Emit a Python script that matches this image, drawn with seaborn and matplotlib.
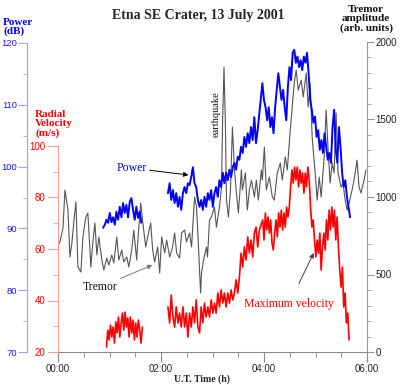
import numpy as np
import pandas as pd
import matplotlib
matplotlib.use("Agg")
import matplotlib.pyplot as plt
from matplotlib.ticker import MultipleLocator, FixedLocator, FixedFormatter
import seaborn as sns

sns.set_style("white")
plt.rcParams['font.family'] = ['Liberation Sans', 'DejaVu Sans']
SERIF = ['Liberation Serif', 'DejaVu Serif']

# ---- data, time in minutes after 00:00 UT ----
tremor_min = [0, 2.3, 5.8, 8.1, 11.6, 13.9, 16.3, 18.6, 20.9, 23.2,
              26.7, 29.0, 32.5, 34.8, 38.3, 40.6, 43.0, 45.3, 47.6, 51.1,
              53.4, 56.9, 59.2, 62.7, 65.0, 68.5, 70.8, 74.3, 76.6, 80.1,
              82.5, 85.9, 88.3, 91.7, 92.9, 96.4, 98.7, 102.2, 104.5, 108.0,
              110.3, 112.6, 116.1, 118.5, 120.8, 124.3, 126.6, 130.1, 133.5, 135.9,
              138.2, 141.7, 144.0, 147.5, 149.8, 153.3, 155.6, 159.1, 161.4, 163.7,
              166.1, 167.2, 169.5, 173.0, 174.2, 176.5, 178.8, 182.3, 184.6, 188.1,
              190.5, 191.6, 193.4, 195.1, 196.3, 198.6, 200.9, 203.2, 205.6, 207.9,
              210.2, 213.7, 214.8, 218.3, 220.6, 223.0, 225.3, 228.8, 231.1, 233.4,
              236.9, 238.1, 240.4, 242.7, 246.2, 249.7, 252.0, 255.5, 259.0, 261.3,
              264.8, 267.1, 270.6, 272.9, 275.2, 277.5, 279.9, 283.4, 285.7, 289.2,
              291.5, 293.8, 296.1, 299.6, 301.9, 304.3, 306.6, 310.1, 312.4, 314.7,
              317.0, 319.4, 321.7, 324.0, 326.3, 329.8, 332.1, 334.5, 336.8, 339.1,
              342.6, 344.9, 348.4, 350.7, 353.0, 356.5, 358.8]
tremor = [690, 710, 800, 1045, 916, 613, 710, 851, 968, 548,
          516, 742, 871, 897, 548, 710, 832, 626, 742, 593,
          529, 606, 561, 626, 574, 742, 593, 658, 581, 613,
          548, 658, 787, 593, 710, 961, 839, 677, 742, 832,
          658, 581, 677, 510, 742, 639, 722, 613, 677, 768,
          639, 606, 768, 787, 710, 768, 677, 1000, 935, 677,
          381, 510, 593, 677, 613, 851, 871, 935, 806, 935,
          1064, 1451, 1838, 1451, 980, 871, 1045, 1451, 1174, 1026,
          897, 1174, 1045, 1155, 916, 1045, 1109, 1000, 1109, 980,
          1174, 1109, 1322, 1045, 1129, 1000, 980, 1155, 1219, 1109,
          1258, 1174, 1432, 1580, 1735, 1819, 1690, 1754, 1645, 1800,
          1580, 1735, 1387, 1155, 980, 1129, 1000, 1258, 1561, 1303,
          1090, 1219, 1155, 1542, 1155, 1064, 1090, 980, 916, 961,
          1045, 1109, 1238, 1064, 1026, 1109, 1174]

# power (dB): two recorded stretches, regular sampling
power1_span = (52.6, 97.1)
power1 = [90.1, 90.6, 91.4, 90.9, 92.5, 91.0, 91.8, 90.6, 92.7, 91.4,
          93.5, 91.8, 94.1, 92.5, 93.8, 91.8, 94.3, 94.9, 93.0, 91.4,
          93.5, 91.7, 92.7, 90.9]
power2a_span = (128.1, 232.6)
power2a = [95.7, 97.3, 94.6, 96.2, 94.1, 95.7, 93.5, 95.1, 93.0, 95.7,
           96.7, 95.7, 97.3, 97.0, 98.3, 99.9, 97.3, 96.7, 94.6, 93.5,
           94.6, 93.0, 95.1, 93.5, 95.7, 94.6, 96.2, 93.5, 95.7, 96.7,
           95.1, 97.8, 96.7, 99.0, 97.3, 99.0, 97.8, 99.5, 98.3, 99.9,
           100.6, 99.5, 101.6, 101.1, 103.2, 102.2, 104.8, 103.2, 105.4, 103.8,
           106.4, 104.3, 108.0, 103.8, 105.9]
power2b_span = (238.1, 340.3)
power2b = [113.5, 110.8, 109.6, 107.5, 109.6, 106.4, 108.0, 105.4, 109.6, 112.4,
           115.1, 112.9, 110.8, 112.4, 109.6, 107.5, 112.9, 116.1, 114.0, 118.4,
           118.9, 116.8, 117.8, 116.1, 117.2, 115.6, 117.8, 116.8, 118.4, 115.1,
           110.8, 109.2, 107.1, 108.1, 104.8, 105.9, 102.7, 104.3, 102.2, 105.4,
           103.2, 101.1, 102.2, 100.6, 106.4, 109.2, 102.7, 100.6, 106.4, 103.2,
           99.0, 96.7, 97.8, 95.1, 93.5, 91.8]

# maximum radial velocity (m/s)
vel1_span = (56.5, 98.3)
vel1 = [21.9, 28.5, 24.7, 30.5, 25.8, 29.7, 23.5, 31.7, 27.4, 33.6,
        25.8, 31.3, 35.1, 28.5, 35.5, 29.7, 33.2, 25.8, 33.6, 27.4,
        32.4, 24.7, 31.3, 25.8, 32.4, 28.5, 23.5, 29.7]
vel2a_span = (128.1, 234.6)
vel2a = [37.5, 31.3, 42.1, 33.6, 29.7, 37.5, 31.3, 35.1, 29.7, 37.5,
         29.7, 35.1, 25.8, 35.1, 29.7, 37.5, 31.3, 40.2, 29.7, 27.4,
         37.5, 31.3, 39.0, 33.6, 37.5, 33.6, 40.2, 35.1, 39.0, 35.1,
         42.9, 37.5, 44.1, 39.0, 42.9, 37.5, 42.9, 39.0, 44.1, 40.2,
         42.9, 48.0, 42.9, 49.1, 58.4, 53.0, 60.8, 55.7, 64.7, 58.4,
         63.5, 56.9, 66.2, 68.5, 60.8, 67.4]
vel2b_span = (238.5, 339.1)
vel2b = [71.3, 63.5, 74.0, 67.4, 72.4, 66.2, 71.3, 62.3, 59.6, 66.2,
         71.3, 64.7, 74.0, 68.5, 75.1, 67.4, 74.0, 68.5, 76.3, 72.4,
         76.3, 84.1, 90.7, 85.6, 91.8, 86.8, 91.8, 84.1, 90.7, 85.6,
         89.5, 81.7, 89.5, 84.1, 91.8, 86.8, 76.3, 68.5, 71.3, 63.5,
         56.9, 63.5, 58.4, 66.2, 51.8, 60.8, 66.2, 59.6, 71.3, 63.5,
         75.1, 67.4, 76.3, 68.5, 75.1, 63.5, 72.4, 60.8, 51.8, 45.2,
         53.0, 37.5, 42.9, 31.3, 35.1, 24.7]

time_ticks = [0, 120, 240, 360]
time_labels = ["00:00", "02:00", "04:00", "06:00"]


def series(*parts):
    t, v = [], []
    for span, vals in parts:
        t += list(np.linspace(span[0], span[1], len(vals)))
        v += list(vals)
    return pd.DataFrame({"t": t, "v": v})


def px(x, y):
    return x / 400, 1 - y / 385


BLUE, RED = "#0000ff", "#ff0000"
TICK_FS = 7
fig = plt.figure(figsize=(4.0, 3.85), dpi=100)
ax = fig.add_axes([58 / 400, 1 - 352 / 385, 309 / 400, 310 / 385])
axv = ax.twinx()
axp = ax.twinx()

# tremor (right axis)
sns.lineplot(x=tremor_min, y=tremor, ax=ax, color="#555555", lw=0.8,
             estimator=None, sort=False)
ax.set_xlim(0, 360)
ax.set_ylim(0, 2000)
ax.yaxis.tick_right()
for s in ["top", "left"]:
    ax.spines[s].set_visible(False)
ax.spines["right"].set_color("#999999")
ax.spines["bottom"].set_color("#888888")
ax.xaxis.set_major_locator(FixedLocator(time_ticks))
ax.xaxis.set_major_formatter(FixedFormatter(time_labels))
ax.xaxis.set_minor_locator(MultipleLocator(30))
ax.yaxis.set_major_locator(MultipleLocator(500))
ax.yaxis.set_minor_locator(MultipleLocator(100))
ax.tick_params(axis="x", which="both", direction="out", bottom=True, color="#888888",
               labelsize=TICK_FS, pad=2)
ax.tick_params(axis="x", which="major", length=7)
ax.tick_params(axis="x", which="minor", length=3.5)
ax.tick_params(axis="y", which="both", direction="out", right=True, left=False,
               color="#999999", labelsize=TICK_FS, labelcolor="#222222", pad=1)
ax.tick_params(axis="y", which="major", length=5)
ax.tick_params(axis="y", which="minor", length=3)
ax.set_xlabel("")
ax.set_ylabel("")

# velocity (inner left axis)
for span_vals in [[(vel1_span, vel1)], [(vel2a_span, vel2a), (vel2b_span, vel2b)]]:
    d = series(*span_vals)
    sns.lineplot(data=d, x="t", y="v", ax=axv, color=RED, lw=1.2,
                 estimator=None, sort=False)
axv.set_ylim(20, 20 + 80 * 310 / 206)
axv.yaxis.tick_left()
for s in ["top", "right", "bottom"]:
    axv.spines[s].set_visible(False)
axv.spines["left"].set_visible(True)
axv.spines["left"].set_position(("axes", 0))
axv.spines["left"].set_bounds(20, 100)
axv.spines["left"].set_color("#ff9a9a")
axv.yaxis.set_major_locator(FixedLocator([20, 40, 60, 80, 100]))
axv.yaxis.set_minor_locator(FixedLocator([30, 50, 70, 90]))
axv.tick_params(axis="y", which="both", direction="out", left=True, right=False,
                color="#ff9a9a", labelsize=TICK_FS, labelcolor=RED, pad=2)
axv.tick_params(axis="y", which="major", length=7)
axv.tick_params(axis="y", which="minor", length=3.5)
axv.set_xlabel("")
axv.set_ylabel("")

# power (outer left axis)
for span_vals in [[(power1_span, power1)], [(power2a_span, power2a), (power2b_span, power2b)]]:
    d = series(*span_vals)
    sns.lineplot(data=d, x="t", y="v", ax=axp, color=BLUE, lw=1.4,
                 estimator=None, sort=False)
axp.set_ylim(70, 70 + 50 * 310 / 309)
axp.yaxis.tick_left()
for s in ["top", "right", "bottom"]:
    axp.spines[s].set_visible(False)
axp.spines["left"].set_visible(True)
axp.spines["left"].set_position(("axes", -31 / 309))
axp.spines["left"].set_bounds(70, 120)
axp.spines["left"].set_color("#a0a0ff")
axp.yaxis.set_major_locator(MultipleLocator(10))
axp.yaxis.set_minor_locator(MultipleLocator(5))
axp.tick_params(axis="y", which="both", direction="out", left=True, right=False,
                color="#a0a0ff", labelsize=6.8, labelcolor="#1a1aff", pad=1)
axp.tick_params(axis="y", which="major", length=6.3)
axp.tick_params(axis="y", which="minor", length=3.2)
axp.set_xlabel("")
axp.set_ylabel("")
axp.set_xlim(0, 360)

# titles and axis captions
fig.text(*px(198, 15), "Etna SE Crater, 13 July 2001", family=SERIF, weight="bold",
         fontsize=10, ha="center", va="center")
fig.text(*px(202, 379), "U.T. Time (h)", family=SERIF, weight="bold",
         fontsize=7, ha="center", va="center")
fig.text(*px(3, 27), "Power\n(dB)", family=SERIF, weight="bold", color=BLUE,
         fontsize=8, ha="left", va="center", linespacing=1.0)
fig.text(*px(35, 124), "Radial\nVelocity\n(m/s)", family=SERIF, weight="bold",
         color=RED, fontsize=8, ha="left", va="center", linespacing=1.0)
fig.text(*px(366, 19), "Tremor\namplitude\n(arb. units)", family=SERIF,
         weight="bold", color="#111111", fontsize=8, ha="center", va="center",
         linespacing=1.0)

# annotations (tremor-axis data coordinates)
ax.annotate("Power", xy=(152, 1142), xytext=(103, 1187), color=BLUE,
            family=SERIF, fontsize=8.5, ha="right", va="center",
            arrowprops=dict(arrowstyle="-|>", color="black", lw=0.7,
                            mutation_scale=7, shrinkA=0, shrinkB=0))
ax.annotate("Tremor", xy=(110, 561), xytext=(69, 419), color="#111111",
            family=SERIF, fontsize=8.5, ha="right", va="center",
            arrowprops=dict(arrowstyle="-|>", color="#777777", lw=0.7,
                            mutation_scale=7, shrinkA=0, shrinkB=0))
ax.annotate("Maximum velocity", xy=(298, 639), xytext=(269, 310), color=RED,
            family=SERIF, fontsize=8.5, ha="center", va="center",
            arrowprops=dict(arrowstyle="-|>", color="#444444", lw=0.7,
                            mutation_scale=7, shrinkA=9, shrinkB=0))
ax.text(184, 1535, "earthquake", family=SERIF, fontsize=7.5, rotation=90,
        ha="center", va="center", color="#111111")

fig.savefig("out.png", dpi=100)
